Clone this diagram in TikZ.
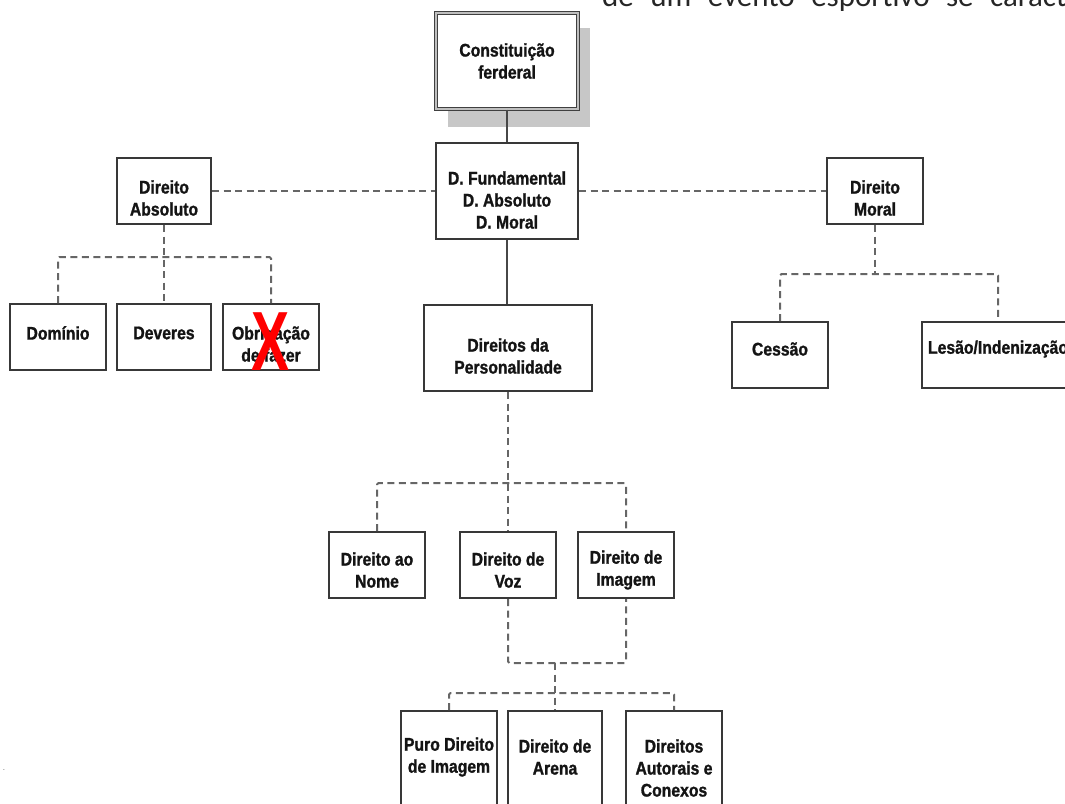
\documentclass[tikz,border=0pt]{standalone}
\usepackage{fontspec}
\setmainfont{Liberation Sans}
\newfontfamily\diagfont{Liberation Sans}[FakeStretch=0.86,FakeBold=1.2]
\newfontfamily\xfont{Liberation Sans}
\newfontfamily\bodyfont{Carlito}
\begin{document}
\begin{tikzpicture}[x=1pt,y=-1pt,
  box/.style={draw=black!78, line width=2pt, fill=white, inner sep=0pt},
  lbl/.style={font=\diagfont\bfseries\fontsize{18.3}{22}\selectfont, align=center, inner sep=0pt, text=black!92},
  dline/.style={draw=black!60, line width=2pt, dash pattern=on 7pt off 4.5pt, rounded corners=1.5pt},
  sline/.style={draw=black!72, line width=2pt}]
\useasboundingbox (0,0) rectangle (1065,803);
\clip (0,0) rectangle (1065,803);

% top text fragment
\node[font=\bodyfont\fontsize{31}{31}\selectfont, anchor=base west, inner sep=0pt, text=black!85] (toptext) at (602,6.5) {\spaceskip=16.5pt de um evento esportivo se caract};

% top box with shadow
\node[fill=black!22, minimum width=142pt, minimum height=99pt, inner sep=0pt] (cfshadow) at (519,77.5) {};
\node[draw=black!75, double=black!25, double distance=1.5pt, line width=1.1pt, fill=white, inner sep=0pt,
      minimum width=142pt, minimum height=96pt] (cf) at (507,61) {};
\node[lbl] (cft) at (507,61) {Constitui\c{c}\~ao\\ferderal};

% second level
\node[box, minimum width=142pt, minimum height=96pt, label={[lbl,yshift=-9pt]center:{D. Fundamental\\D. Absoluto\\D. Moral}}] (df) at (507,191) {};
\node[box, minimum width=94pt, minimum height=66pt, label={[lbl,yshift=-7pt]center:{Direito\\Absoluto}}] (dabs) at (164,191) {};
\node[box, minimum width=96pt, minimum height=66pt, label={[lbl,yshift=-7pt]center:{Direito\\Moral}}] (dmor) at (875,191) {};

% left children
\node[box, minimum width=96pt, minimum height=66pt, label={[lbl,yshift=4pt]center:{Dom\'inio}}] (dom) at (58,337) {};
\node[box, minimum width=94pt, minimum height=66pt, label={[lbl,yshift=4pt]center:{Deveres}}] (dev) at (164,337) {};
\node[box, minimum width=96pt, minimum height=66pt, label={[lbl,yshift=-7pt]center:{Obriga\c{c}\~ao\\de fazer}}] (obr) at (271,337) {};
\node[text=red, font=\xfont\bfseries\fontsize{84}{84}\selectfont, inner sep=0pt] (xmark) at (271,342) {\scalebox{0.68}[1]{X}};

% right children
\node[box, minimum width=96pt, minimum height=66pt, label={[lbl,yshift=6pt]center:{Cess\~ao}}] (ces) at (780,355) {};
\node[box, minimum width=152pt, minimum height=66pt, label={[lbl,yshift=6pt]center:{Les\~ao/Indeniza\c{c}\~ao}}] (les) at (998,355) {};

% centre
\node[box, minimum width=168pt, minimum height=86pt, label={[lbl,yshift=-8pt]center:{Direitos da\\Personalidade}}] (dp) at (508,348) {};

\node[box, minimum width=96pt, minimum height=66pt, label={[lbl,yshift=-5pt]center:{Direito ao\\Nome}}] (nom) at (377,565) {};
\node[box, minimum width=96pt, minimum height=66pt, label={[lbl,yshift=-5pt]center:{Direito de\\Voz}}] (voz) at (508,565) {};
\node[box, minimum width=96pt, minimum height=66pt, label={[lbl,yshift=-5pt]center:{Direito de\\Imagem}}] (img) at (626,565) {};

\node[box, minimum width=96pt, minimum height=120pt, label={[lbl,yshift=14pt]center:{Puro Direito\\de Imagem}}] (puro) at (449,771) {};
\node[box, minimum width=94pt, minimum height=120pt, label={[lbl,yshift=14pt]center:{Direito de\\Arena}}] (are) at (555,771) {};
\node[box, minimum width=96pt, minimum height=120pt, label={[lbl,yshift=3pt]center:{Direitos\\Autorais e\\Conexos}}] (aut) at (674,771) {};

\node[font=\fontsize{8}{8}\selectfont, text=black!60, inner sep=0pt] (dot) at (4,770) {.};

% bus coordinates
\coordinate (b1) at (164,257);
\coordinate (b2) at (875,274);
\coordinate (b3) at (508,483);
\coordinate (b4) at (555,663);
\coordinate (b5) at (555,693);

% connectors
\draw[sline] (cf.south) -- (df.north);
\draw[sline] (df.south) -- (df.south |- dp.north);
\draw[dline] (dabs.east) -- (dabs.east -| df.west);
\draw[dline] (dmor.west -| df.east) -- (dmor.west);

\draw[dline] (dabs.south) -- (dev.north);
\draw[dline] (dom.north) |- (b1) -| (obr.north);

\draw[dline] (dmor.south) -- (b2);
\draw[dline] (ces.north) |- (b2) -| (les.north);

\draw[dline] (dp.south) -- (voz.north);
\draw[dline] (nom.north) |- (b3) -| (img.north);

\draw[dline] (voz.south) |- (b4) -| (img.south);
\draw[dline] (b4) -- (are.north);
\draw[dline] (puro.north) |- (b5) -| (aut.north);
\end{tikzpicture}
\end{document}
